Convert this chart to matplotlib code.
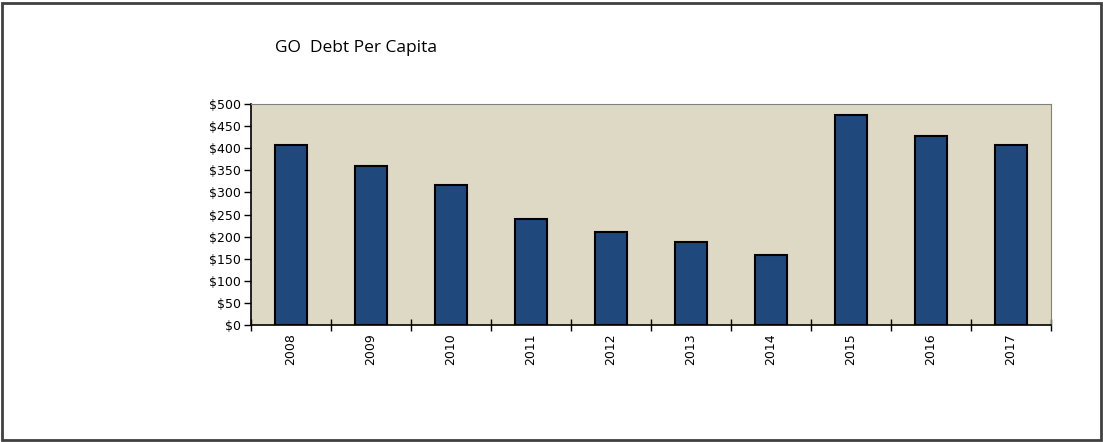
import matplotlib.pyplot as plt
from matplotlib.patches import Rectangle
from matplotlib.ticker import FuncFormatter, FixedLocator

# годы и долг на душу населения
years = ['2008', '2009', '2010', '2011', '2012', '2013', '2014', '2015', '2016', '2017']
debt = [407, 360, 316, 240, 210, 187, 158, 475, 428, 407]

W, H = 1103, 442
fig = plt.figure(figsize=(W / 100, H / 100), dpi=100)

# рамка вокруг всей диаграммы
fig.patches.append(Rectangle((1.5 / W, 2.5 / H), (W - 4) / W, (H - 5) / H,
                             transform=fig.transFigure, fill=False,
                             edgecolor='#404040', linewidth=2))

ax = fig.add_axes([251 / W, (H - 325) / H, 800 / W, 221 / H])
ax.set_facecolor('#DDD9C4')

x = range(len(years))
ax.bar(x, debt, width=0.41, color='#1F497D', edgecolor='black', linewidth=1.5, zorder=3)

ax.set_xlim(-0.5, len(years) - 0.5)
ax.set_ylim(0, 500)
ax.set_yticks(range(0, 501, 50))
ax.yaxis.set_major_formatter(FuncFormatter(lambda v, p: '$%d' % v))

# метки лет по центру, засечки на границах категорий
ax.set_xticks(list(x))
ax.set_xticklabels(years, rotation=90)
ax.tick_params(axis='x', which='major', length=0, pad=6)
ax.xaxis.set_minor_locator(FixedLocator([i - 0.5 for i in range(len(years) + 1)]))
ax.tick_params(axis='x', which='minor', length=9, width=1, color='black', direction='inout')
ax.tick_params(axis='y', length=5, width=1, pad=2)

for lab in ax.get_xticklabels() + ax.get_yticklabels():
    lab.set_fontfamily('DejaVu Sans')
    lab.set_fontsize(9)
    lab.set_color('black')

ax.spines['left'].set_color('black')
ax.spines['bottom'].set_color('black')
ax.spines['left'].set_linewidth(1.2)
ax.spines['bottom'].set_linewidth(1.2)
ax.spines['top'].set_color('#808080')
ax.spines['right'].set_color('#808080')

fig.text(275 / W, 1 - 48 / H, 'GO  Debt Per Capita', fontsize=12.5,
         family='Open Sans', va='center', ha='left')

fig.savefig('out.png', dpi=100)
